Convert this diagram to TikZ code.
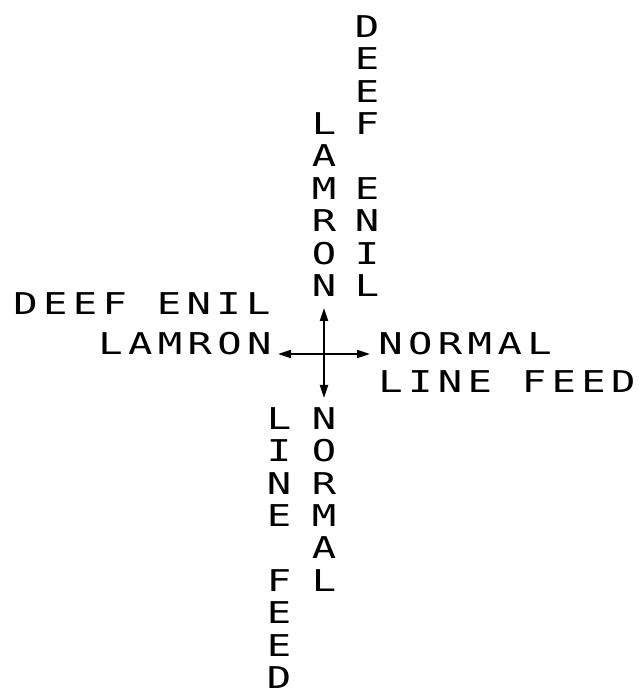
\documentclass[tikz,border=0pt]{standalone}
\usepackage{fontspec}
\usetikzlibrary{arrows.meta,positioning,calc}
\newfontfamily\plotfont[FakeStretch=1.35]{DejaVu Sans Mono}
\newfontfamily\plotfontsp[FakeStretch=1.35,LetterSpace=18]{DejaVu Sans Mono}
\tikzset{
  txt/.style={inner sep=0pt,font=\plotfont\fontsize{15}{16.2}\selectfont},
  htxt/.style={txt,font=\plotfontsp\fontsize{15}{16.2}\selectfont},
  vtxt/.style={txt,align=center},
  ar/.style={-{Triangle[length=6.5pt,width=4pt]},line width=1pt},
}
\begin{document}
\begin{tikzpicture}[x=0.5pt,y=0.5pt]
\useasboundingbox (0,0) rectangle (640,695);
% the cross
\coordinate (o) at (324,341);
\coordinate (up) at (324,387);
\coordinate (dn) at (324,297);
\coordinate (lt) at (278,341);
\coordinate (rt) at (370,341);
\draw[ar] (o) -- (up);
\draw[ar] (o) -- (dn);
\draw[ar] (o) -- (lt);
\draw[ar] (o) -- (rt);
% path right
\node[htxt,anchor=base west] (nr) at ($(rt)+(8,-1)$) {NORMAL};
\node[htxt,anchor=base west] (lr) at ($(nr.base west)+(0,-38)$) {LINE FEED};
% path left
\node[htxt,anchor=base east] (nl) at ($(lt)+(-6,-1)$) {LAMRON};
\node[htxt,anchor=base east] (ll) at ($(nl.base east)+(-1,40)$) {DEEF ENIL};
% path up
\node[vtxt,above=5.5pt of up] (nu) {L\\A\\M\\R\\O\\N};
\node[vtxt,anchor=south] (lu) at ($(nu.south)+(43,0)$) {D\\E\\E\\F\\~\\E\\N\\I\\L};
% path down
\node[vtxt,below=4.5pt of dn] (nd) {N\\O\\R\\M\\A\\L};
\node[vtxt,anchor=north] (ld) at ($(nd.north)+(-45,0)$) {L\\I\\N\\E\\~\\F\\E\\E\\D};
\end{tikzpicture}
\end{document}
